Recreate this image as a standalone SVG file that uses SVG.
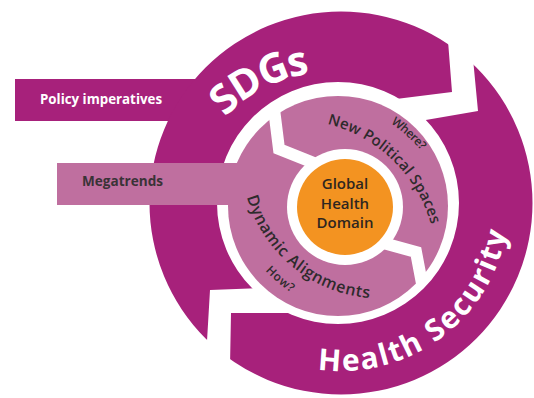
<svg xmlns="http://www.w3.org/2000/svg" width="534" height="398" viewBox="0 0 534 398">
  <defs>
    <style>
      .purple { fill: #a7217b; }
      .pink { fill: #bf6f9f; }
      .gap { fill: #ffffff; }
      .cut { fill: none; stroke: #ffffff; stroke-width: 12; stroke-linejoin: miter; }
      .sans { font-family: "Open Sans", "Liberation Sans", sans-serif; }
      .big { font-weight: 700; fill: #ffffff; }
      .bar { font-size: 15px; font-weight: 700; }
      .ring { font-weight: 600; fill: #2e2a2c; }
      .core { font-size: 15px; font-weight: 600; fill: #2e2620; text-anchor: middle; }
    </style>
    <clipPath id="band-clip"><circle cx="338" cy="203" r="120"/></clipPath>
    <!-- baselines for curved labels -->
    <path id="p-sdgs" d="M225.4,117.4 A141,141 0 0 1 328.5,72.6"/>
    <path id="p-security" d="M317.6,369.4 A168,168 0 0 0 508.4,188.4"/>
    <path id="p-spaces" d="M327.4,123.9 A144.5,144.5 0 0 1 436,251.4"/>
    <path id="p-where" d="M390.7,123.1 A172,172 0 0 1 441,178"/>
    <path id="p-align" d="M246.8,197 A139.5,139.5 0 0 0 393.2,298"/>
    <path id="p-how" d="M265.2,270.8 A161,161 0 0 0 313,304.9"/>
  </defs>

  <!-- Policy imperatives bar feeding the outer ring -->
  <g id="policy-imperatives">
    <rect class="purple" x="15" y="79" width="200" height="42"/>
  </g>

  <!-- outer ring: SDGs / Health Security, split by two zigzag cuts -->
  <g id="outer-ring">
    <path class="purple" fill-rule="evenodd"
      d="M149.5,203 A191.5,191.5 0 1 0 532.5,203 A191.5,191.5 0 1 0 149.5,203 Z
         M217,203 A121,121 0 1 0 459,203 A121,121 0 1 0 217,203 Z"/>
    <polygon class="gap" points="447,28 452,92 396,99 420,121 478,111 472,48"/>
    <polygon class="gap" points="206,358 210,290 262,288 292,313 231,313 230,366"/>
  </g>

  <!-- inner ring: New Political Spaces / Dynamic Alignments -->
  <g id="inner-ring">
    <circle class="pink" cx="338" cy="206" r="110"/>
    <g clip-path="url(#band-clip)">
      <polyline class="cut" points="271,85 279,149 309,161 326,168"/>
      <polyline class="cut" points="376,241 416,252 427,310"/>
    </g>
  </g>

  <!-- Megatrends bar feeding the inner ring -->
  <g id="megatrends">
    <rect class="pink" x="57" y="163" width="190" height="42"/>
  </g>

  <!-- core -->
  <g id="global-health-domain">
    <circle cx="345" cy="207" r="58" fill="#ffffff"/>
    <circle cx="345" cy="207" r="48" fill="#f39321"/>
    <text class="sans core" x="345" y="189">Global</text>
    <text class="sans core" x="345" y="208.5">Health</text>
    <text class="sans core" x="345" y="228">Domain</text>
  </g>

  <g id="labels">
    <text class="sans bar" x="40" y="103.5" fill="#ffffff" textLength="122" lengthAdjust="spacingAndGlyphs">Policy imperatives</text>
    <text class="sans bar" x="82" y="186" fill="#3a3337" font-weight="600" textLength="81" lengthAdjust="spacingAndGlyphs">Megatrends</text>
    <text class="sans big" font-size="41"><textPath href="#p-sdgs" textLength="97" lengthAdjust="spacing">SDGs</textPath></text>
    <text class="sans big" font-size="30"><textPath href="#p-security" textLength="258" lengthAdjust="spacing">Health Security</textPath></text>
    <text class="sans ring" font-size="15"><textPath href="#p-spaces" textLength="151" lengthAdjust="spacing">New Political Spaces</textPath></text>
    <text class="sans ring" font-size="12"><textPath href="#p-where" textLength="41" lengthAdjust="spacing">Where?</textPath></text>
    <text class="sans ring" font-size="16"><textPath href="#p-align" textLength="169" lengthAdjust="spacing">Dynamic Alignments</textPath></text>
    <text class="sans ring" font-size="12"><textPath href="#p-how" textLength="33.7" lengthAdjust="spacing">How?</textPath></text>
  </g>
</svg>
